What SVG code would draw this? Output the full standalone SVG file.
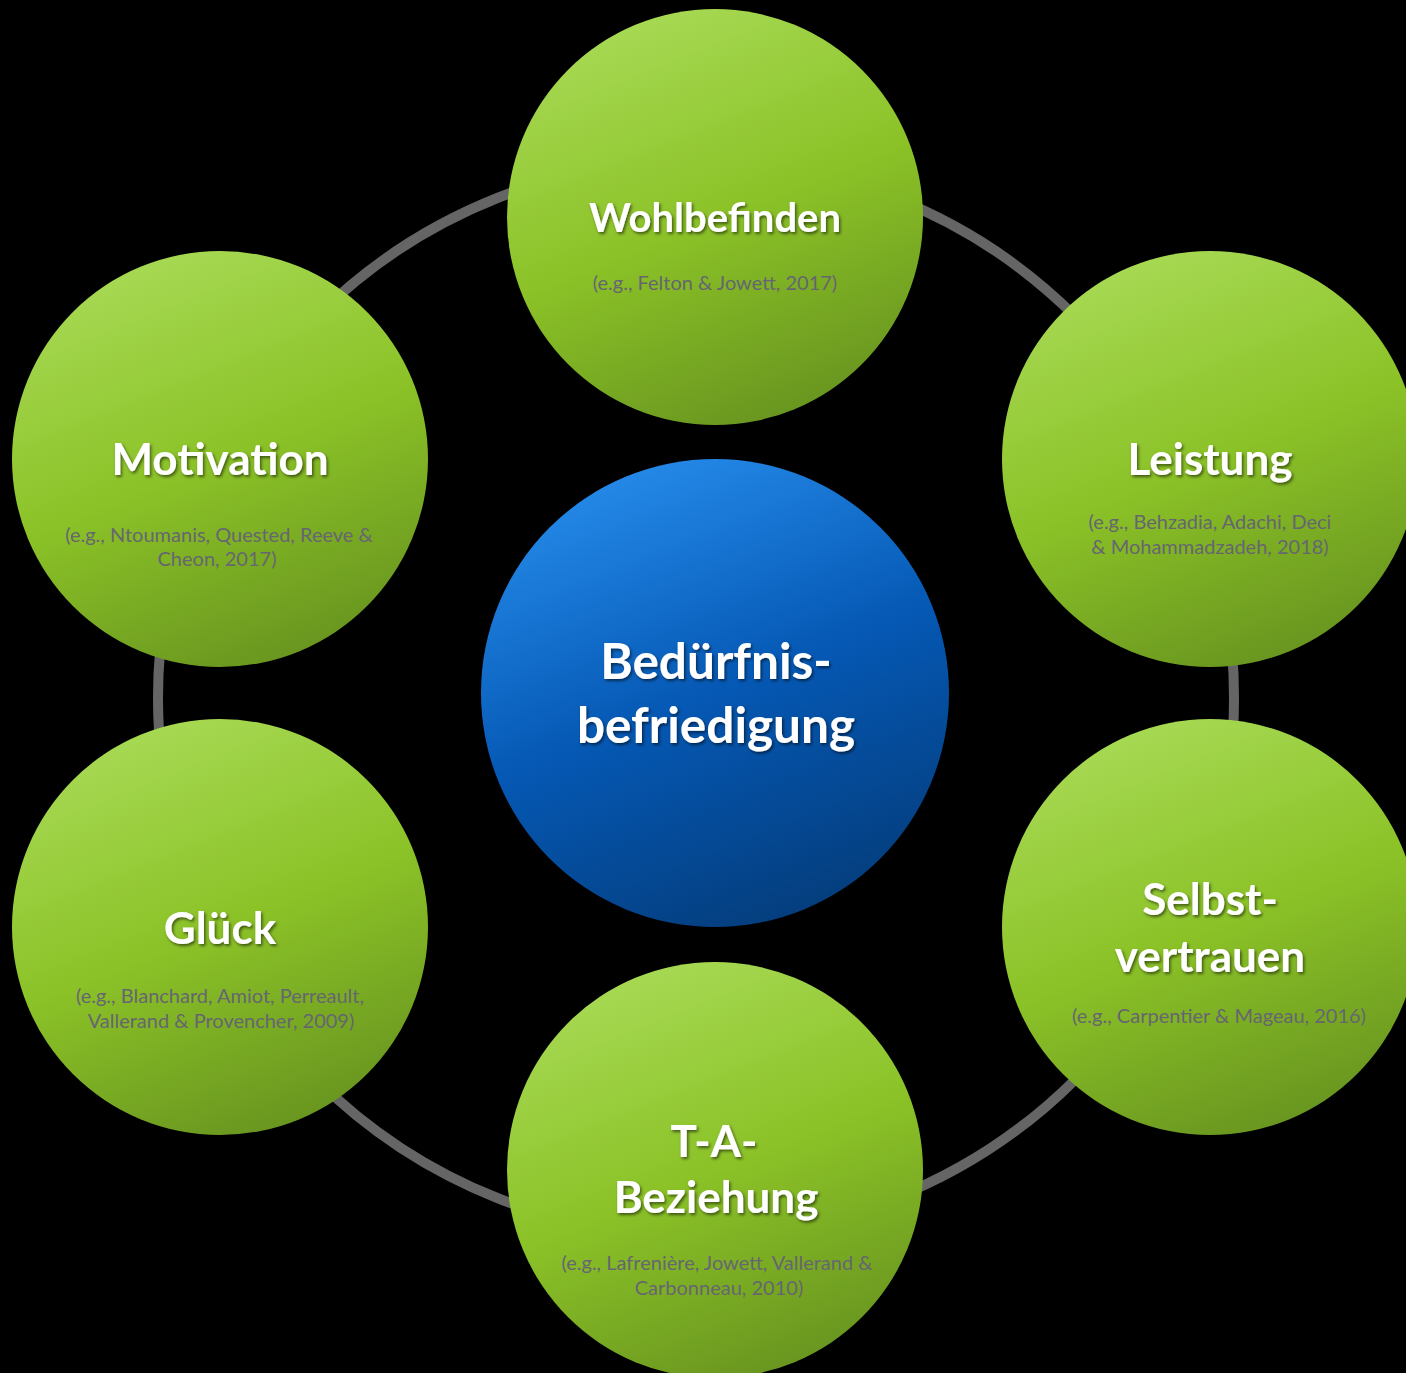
<svg xmlns="http://www.w3.org/2000/svg" width="1406" height="1373" viewBox="0 0 1406 1373">
  <defs>
    <linearGradient id="gGreen" x1="0.3" y1="0" x2="0.7" y2="1">
      <stop offset="0" stop-color="#a8da55"/>
      <stop offset="0.5" stop-color="#8bc227"/>
      <stop offset="1" stop-color="#67931f"/>
    </linearGradient>
    <linearGradient id="gBlue" x1="0.3" y1="0" x2="0.7" y2="1">
      <stop offset="0" stop-color="#268bea"/>
      <stop offset="0.5" stop-color="#0558b4"/>
      <stop offset="1" stop-color="#043c7a"/>
    </linearGradient>
    <filter id="txtShadow" x="-10%" y="-30%" width="120%" height="160%">
      <feDropShadow dx="1.5" dy="2" stdDeviation="1.5" flood-color="#000" flood-opacity="0.55"/>
    </filter>
  </defs>
  <style>
    .green { fill: url(#gGreen); }
    .blue { fill: url(#gBlue); }
    .ring { fill: none; stroke: #656565; stroke-width: 10; }
    .title { font-family: Lato, "Open Sans", sans-serif; font-weight: 700; fill: #ffffff; text-anchor: middle; filter: url(#txtShadow); }
    .t40 { font-size: 40px; }
    .t44 { font-size: 44px; }
    .t50 { font-size: 49.5px; }
    .ref { font-family: Lato, "Open Sans", sans-serif; font-size: 20px; fill: #666670; text-anchor: middle; }
  </style>

  <rect width="1406" height="1373" fill="#000000"/>

  <g id="connectors">
    <circle class="ring" cx="696" cy="698" r="538"/>
  </g>

  <g id="node-wohlbefinden">
    <circle class="green" cx="715" cy="217" r="208"/>
    <text class="title t40" x="715" y="232">Wohlbefinden</text>
    <text class="ref" x="715" y="290">(e.g., Felton &amp; Jowett, 2017)</text>
  </g>

  <g id="node-motivation">
    <circle class="green" cx="220" cy="459" r="208"/>
    <text class="title t44" x="220" y="475">Motivation</text>
    <text class="ref" x="219" y="542">(e.g., Ntoumanis, Quested, Reeve &amp;</text>
    <text class="ref" x="217" y="566">Cheon, 2017)</text>
  </g>

  <g id="node-leistung">
    <circle class="green" cx="1210" cy="459" r="208"/>
    <text class="title t44" x="1210" y="475">Leistung</text>
    <text class="ref" x="1210" y="529">(e.g., Behzadia, Adachi, Deci</text>
    <text class="ref" x="1210" y="554">&amp; Mohammadzadeh, 2018)</text>
  </g>

  <g id="node-glueck">
    <circle class="green" cx="220" cy="927" r="208"/>
    <text class="title t44" x="220" y="944">Glück</text>
    <text class="ref" x="220" y="1003">(e.g., Blanchard, Amiot, Perreault,</text>
    <text class="ref" x="221" y="1028">Vallerand &amp; Provencher, 2009)</text>
  </g>

  <g id="node-selbstvertrauen">
    <circle class="green" cx="1210" cy="927" r="208"/>
    <text class="title t44" x="1210" y="915">Selbst-</text>
    <text class="title t44" x="1210" y="972">vertrauen</text>
    <text class="ref" x="1219" y="1023">(e.g., Carpentier &amp; Mageau, 2016)</text>
  </g>

  <g id="node-beziehung">
    <circle class="green" cx="715" cy="1170" r="208"/>
    <text class="title t44" x="714" y="1157">T-A-</text>
    <text class="title t44" x="716" y="1213">Beziehung</text>
    <text class="ref" x="717" y="1270">(e.g., Lafrenière, Jowett, Vallerand &amp;</text>
    <text class="ref" x="719" y="1295">Carbonneau, 2010)</text>
  </g>

  <g id="node-center">
    <circle class="blue" cx="715" cy="693" r="234"/>
    <text class="title t50" x="716" y="679">Bedürfnis-</text>
    <text class="title t50" x="716" y="743">befriedigung</text>
  </g>
</svg>
